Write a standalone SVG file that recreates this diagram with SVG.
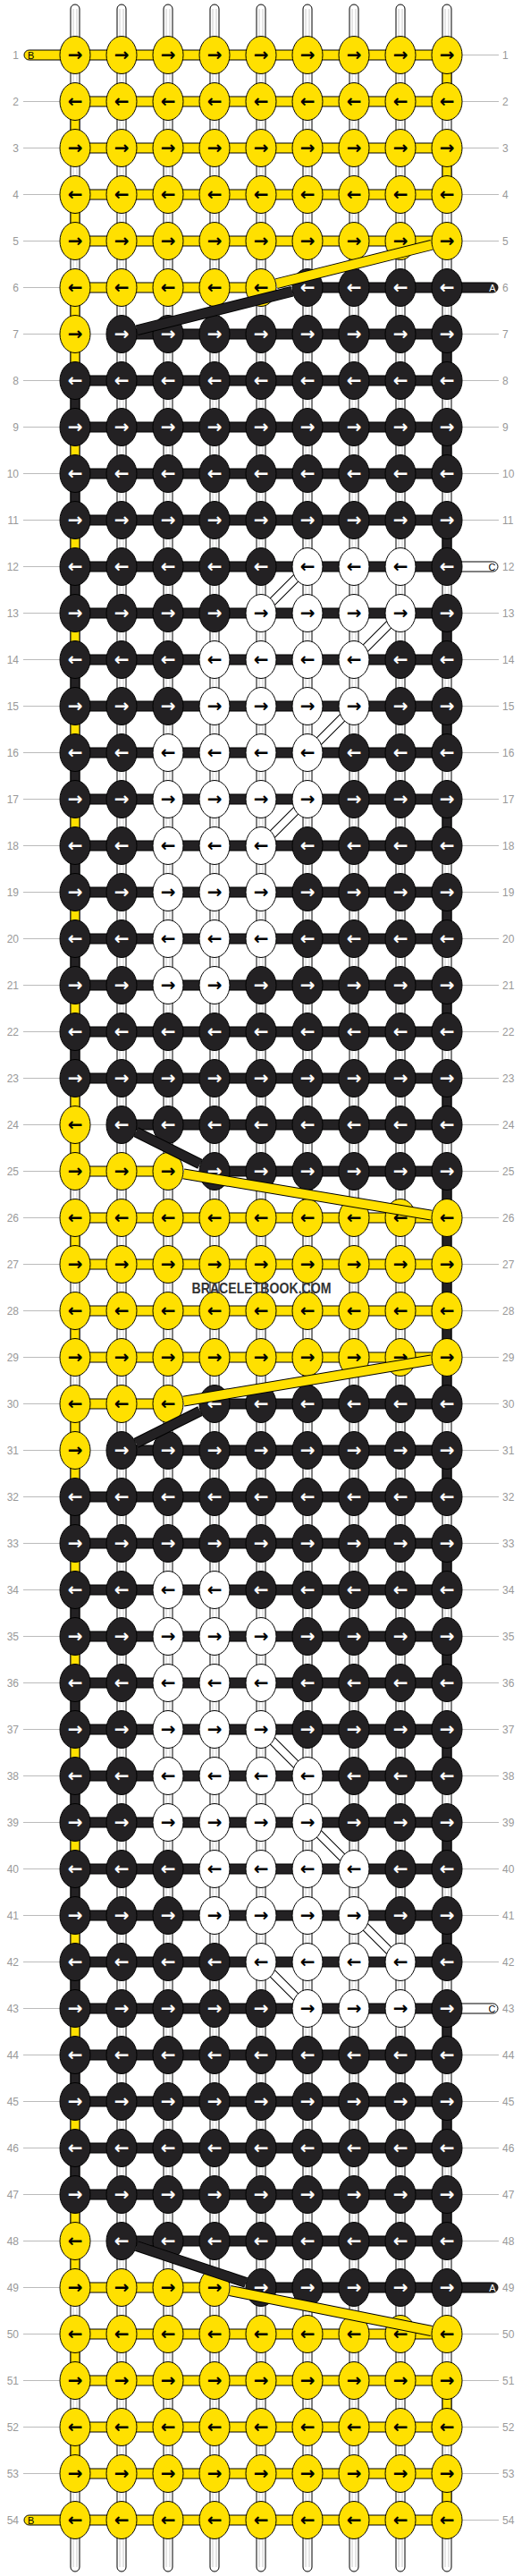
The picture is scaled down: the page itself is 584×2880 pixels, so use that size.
<svg xmlns="http://www.w3.org/2000/svg" width="584" height="2880" viewBox="0 0 584 2880">
<style>
.lbl text{font-family:"Liberation Sans",Arial,sans-serif;font-size:12px;fill:#999}
.gl{stroke:#bbb;stroke-width:1;fill:none}
.tb{fill:#fff;stroke:#000;stroke-width:1}
.ti{stroke:#ccc;stroke-width:1;fill:none}
.Y{fill:#ffe000;stroke:#000;stroke-width:1}
.K{fill:#232123;stroke:#000;stroke-width:1}
.W{fill:#fff;stroke:#000;stroke-width:1}
.ar{font-family:"DejaVu Sans",sans-serif;font-weight:bold;font-size:20px;text-anchor:middle;fill:#000}
.aw{fill:#fff}
.tt{font-family:"Liberation Sans",Arial,sans-serif;font-size:11px}
.bo{stroke:#000;stroke-width:12;fill:none}
.by{stroke:#ffe000;stroke-width:10;fill:none}
.bk{stroke:#232123;stroke-width:10;fill:none}
.ho{stroke:#000;stroke-width:10;fill:none}
.hw{stroke:#fff;stroke-width:8;fill:none}
.wm{font-family:"Liberation Sans",Arial,sans-serif;font-weight:bold;font-size:17px;fill:#333;text-anchor:middle}
</style>
<defs>
<g id="yr"><ellipse class="Y" rx="17" ry="21"/><text class="ar" y="6.5">→</text></g>
<g id="yl"><ellipse class="Y" rx="17" ry="21"/><text class="ar" y="6.5">←</text></g>
<g id="kr"><ellipse class="K" rx="17" ry="21"/><text class="ar aw" y="6.5">→</text></g>
<g id="kl"><ellipse class="K" rx="17" ry="21"/><text class="ar aw" y="6.5">←</text></g>
<g id="wr"><ellipse class="W" rx="17" ry="21"/><text class="ar" y="6.5">→</text></g>
<g id="wl"><ellipse class="W" rx="17" ry="21"/><text class="ar" y="6.5">←</text></g>
</defs>
<rect width="584" height="2880" fill="#fff"/>
<g id="labels" class="lbl">
<path class="gl" d="M84 61.5H558M26 113.5H558M26 165.5H558M26 217.5H558M26 269.5H558M26 321.5H500M26 373.5H558M26 425.5H558M26 477.5H558M26 529.5H558M26 581.5H558M26 633.5H500M26 685.5H558M26 737.5H558M26 789.5H558M26 841.5H558M26 893.5H558M26 945.5H558M26 997.5H558M26 1049.5H558M26 1101.5H558M26 1153.5H558M26 1205.5H558M26 1257.5H558M26 1309.5H558M26 1361.5H558M26 1413.5H558M26 1465.5H558M26 1517.5H558M26 1569.5H558M26 1621.5H558M26 1673.5H558M26 1725.5H558M26 1777.5H558M26 1829.5H558M26 1881.5H558M26 1933.5H558M26 1985.5H558M26 2037.5H558M26 2089.5H558M26 2141.5H558M26 2193.5H558M26 2245.5H500M26 2297.5H558M26 2349.5H558M26 2401.5H558M26 2453.5H558M26 2505.5H558M26 2557.5H500M26 2609.5H558M26 2661.5H558M26 2713.5H558M26 2765.5H558M84 2817.5H558"/>
<g text-anchor="end">
<text x="21" y="66">1</text><text x="21" y="118">2</text><text x="21" y="170">3</text><text x="21" y="222">4</text><text x="21" y="274">5</text><text x="21" y="326">6</text><text x="21" y="378">7</text><text x="21" y="430">8</text><text x="21" y="482">9</text><text x="21" y="534">10</text><text x="21" y="586">11</text><text x="21" y="638">12</text><text x="21" y="690">13</text><text x="21" y="742">14</text><text x="21" y="794">15</text><text x="21" y="846">16</text><text x="21" y="898">17</text><text x="21" y="950">18</text><text x="21" y="1002">19</text><text x="21" y="1054">20</text><text x="21" y="1106">21</text><text x="21" y="1158">22</text><text x="21" y="1210">23</text><text x="21" y="1262">24</text><text x="21" y="1314">25</text><text x="21" y="1366">26</text><text x="21" y="1418">27</text><text x="21" y="1470">28</text><text x="21" y="1522">29</text><text x="21" y="1574">30</text><text x="21" y="1626">31</text><text x="21" y="1678">32</text><text x="21" y="1730">33</text><text x="21" y="1782">34</text><text x="21" y="1834">35</text><text x="21" y="1886">36</text><text x="21" y="1938">37</text><text x="21" y="1990">38</text><text x="21" y="2042">39</text><text x="21" y="2094">40</text><text x="21" y="2146">41</text><text x="21" y="2198">42</text><text x="21" y="2250">43</text><text x="21" y="2302">44</text><text x="21" y="2354">45</text><text x="21" y="2406">46</text><text x="21" y="2458">47</text><text x="21" y="2510">48</text><text x="21" y="2562">49</text><text x="21" y="2614">50</text><text x="21" y="2666">51</text><text x="21" y="2718">52</text><text x="21" y="2770">53</text><text x="21" y="2822">54</text>
</g>
<g>
<text x="562" y="66">1</text><text x="562" y="118">2</text><text x="562" y="170">3</text><text x="562" y="222">4</text><text x="562" y="274">5</text><text x="562" y="326">6</text><text x="562" y="378">7</text><text x="562" y="430">8</text><text x="562" y="482">9</text><text x="562" y="534">10</text><text x="562" y="586">11</text><text x="562" y="638">12</text><text x="562" y="690">13</text><text x="562" y="742">14</text><text x="562" y="794">15</text><text x="562" y="846">16</text><text x="562" y="898">17</text><text x="562" y="950">18</text><text x="562" y="1002">19</text><text x="562" y="1054">20</text><text x="562" y="1106">21</text><text x="562" y="1158">22</text><text x="562" y="1210">23</text><text x="562" y="1262">24</text><text x="562" y="1314">25</text><text x="562" y="1366">26</text><text x="562" y="1418">27</text><text x="562" y="1470">28</text><text x="562" y="1522">29</text><text x="562" y="1574">30</text><text x="562" y="1626">31</text><text x="562" y="1678">32</text><text x="562" y="1730">33</text><text x="562" y="1782">34</text><text x="562" y="1834">35</text><text x="562" y="1886">36</text><text x="562" y="1938">37</text><text x="562" y="1990">38</text><text x="562" y="2042">39</text><text x="562" y="2094">40</text><text x="562" y="2146">41</text><text x="562" y="2198">42</text><text x="562" y="2250">43</text><text x="562" y="2302">44</text><text x="562" y="2354">45</text><text x="562" y="2406">46</text><text x="562" y="2458">47</text><text x="562" y="2510">48</text><text x="562" y="2562">49</text><text x="562" y="2614">50</text><text x="562" y="2666">51</text><text x="562" y="2718">52</text><text x="562" y="2770">53</text><text x="562" y="2822">54</text>
</g>
</g>
<g id="connectors">
<g id="tubes">
<rect class="tb" x="79" y="5" width="10" height="2870" rx="5"/><rect class="tb" x="131" y="5" width="10" height="2870" rx="5"/><rect class="tb" x="183" y="5" width="10" height="2870" rx="5"/><rect class="tb" x="235" y="5" width="10" height="2870" rx="5"/><rect class="tb" x="287" y="5" width="10" height="2870" rx="5"/><rect class="tb" x="339" y="5" width="10" height="2870" rx="5"/><rect class="tb" x="391" y="5" width="10" height="2870" rx="5"/><rect class="tb" x="443" y="5" width="10" height="2870" rx="5"/><rect class="tb" x="495" y="5" width="10" height="2870" rx="5"/>
<path class="ti" d="M82 10V2870M86 10V2870M134 10V2870M138 10V2870M186 10V2870M190 10V2870M238 10V2870M242 10V2870M290 10V2870M294 10V2870M342 10V2870M346 10V2870M394 10V2870M398 10V2870M446 10V2870M450 10V2870M498 10V2870M502 10V2870"/>
</g>
<g id="bars">
<rect class="Y" x="84" y="56" width="416" height="11"/><rect class="Y" x="84" y="108" width="416" height="11"/><rect class="Y" x="84" y="160" width="416" height="11"/><rect class="Y" x="84" y="212" width="416" height="11"/><rect class="Y" x="84" y="264" width="416" height="11"/>
<rect class="Y" x="84" y="316" width="208" height="11"/><rect class="K" x="344" y="316" width="156" height="11"/>
<rect class="K" x="136" y="368" width="364" height="11"/>
<rect class="K" x="84" y="420" width="416" height="11"/><rect class="K" x="84" y="472" width="416" height="11"/><rect class="K" x="84" y="524" width="416" height="11"/><rect class="K" x="84" y="576" width="416" height="11"/><rect class="K" x="84" y="628" width="416" height="11"/><rect class="K" x="84" y="680" width="416" height="11"/><rect class="K" x="84" y="732" width="416" height="11"/><rect class="K" x="84" y="784" width="416" height="11"/><rect class="K" x="84" y="836" width="416" height="11"/><rect class="K" x="84" y="888" width="416" height="11"/><rect class="K" x="84" y="940" width="416" height="11"/><rect class="K" x="84" y="992" width="416" height="11"/><rect class="K" x="84" y="1044" width="416" height="11"/><rect class="K" x="84" y="1096" width="416" height="11"/><rect class="K" x="84" y="1148" width="416" height="11"/><rect class="K" x="84" y="1200" width="416" height="11"/>
<rect class="K" x="136" y="1252" width="364" height="11"/>
<rect class="Y" x="84" y="1304" width="104" height="11"/><rect class="K" x="240" y="1304" width="260" height="11"/>
<rect class="Y" x="84" y="1356" width="416" height="11"/><rect class="Y" x="84" y="1408" width="416" height="11"/><rect class="Y" x="84" y="1460" width="416" height="11"/><rect class="Y" x="84" y="1512" width="416" height="11"/>
<rect class="Y" x="84" y="1564" width="104" height="11"/><rect class="K" x="240" y="1564" width="260" height="11"/>
<rect class="K" x="136" y="1616" width="364" height="11"/>
<rect class="K" x="84" y="1668" width="416" height="11"/><rect class="K" x="84" y="1720" width="416" height="11"/><rect class="K" x="84" y="1772" width="416" height="11"/><rect class="K" x="84" y="1824" width="416" height="11"/><rect class="K" x="84" y="1876" width="416" height="11"/><rect class="K" x="84" y="1928" width="416" height="11"/><rect class="K" x="84" y="1980" width="416" height="11"/><rect class="K" x="84" y="2032" width="416" height="11"/><rect class="K" x="84" y="2084" width="416" height="11"/><rect class="K" x="84" y="2136" width="416" height="11"/><rect class="K" x="84" y="2188" width="416" height="11"/><rect class="K" x="84" y="2240" width="416" height="11"/><rect class="K" x="84" y="2292" width="416" height="11"/><rect class="K" x="84" y="2344" width="416" height="11"/><rect class="K" x="84" y="2396" width="416" height="11"/><rect class="K" x="84" y="2448" width="416" height="11"/>
<rect class="K" x="136" y="2500" width="364" height="11"/>
<rect class="Y" x="84" y="2552" width="156" height="11"/><rect class="K" x="292" y="2552" width="208" height="11"/>
<rect class="Y" x="84" y="2604" width="416" height="11"/><rect class="Y" x="84" y="2656" width="416" height="11"/><rect class="Y" x="84" y="2708" width="416" height="11"/><rect class="Y" x="84" y="2760" width="416" height="11"/><rect class="Y" x="84" y="2812" width="416" height="11"/>
</g>
<g id="edges">
<rect class="Y" x="79" y="130.5" width="10" height="18"/><rect class="Y" x="79" y="234.5" width="10" height="18"/><rect class="Y" x="79" y="338.5" width="10" height="18"/><rect class="Y" x="79" y="390.5" width="10" height="18"/>
<rect class="K" x="79" y="442.5" width="10" height="18"/><rect class="Y" x="79" y="494.5" width="10" height="18"/><rect class="K" x="79" y="546.5" width="10" height="18"/><rect class="Y" x="79" y="598.5" width="10" height="18"/><rect class="K" x="79" y="650.5" width="10" height="18"/><rect class="Y" x="79" y="702.5" width="10" height="18"/><rect class="K" x="79" y="754.5" width="10" height="18"/><rect class="Y" x="79" y="806.5" width="10" height="18"/><rect class="K" x="79" y="858.5" width="10" height="18"/><rect class="Y" x="79" y="910.5" width="10" height="18"/><rect class="K" x="79" y="962.5" width="10" height="18"/><rect class="Y" x="79" y="1014.5" width="10" height="18"/><rect class="K" x="79" y="1066.5" width="10" height="18"/><rect class="Y" x="79" y="1118.5" width="10" height="18"/><rect class="K" x="79" y="1170.5" width="10" height="18"/><rect class="Y" x="79" y="1222.5" width="10" height="18"/><rect class="Y" x="79" y="1274.5" width="10" height="18"/>
<rect class="Y" x="79" y="1378.5" width="10" height="18"/><rect class="Y" x="79" y="1482.5" width="10" height="18"/><rect class="Y" x="79" y="1586.5" width="10" height="18"/>
<rect class="Y" x="79" y="1638.5" width="10" height="18"/><rect class="K" x="79" y="1690.5" width="10" height="18"/><rect class="Y" x="79" y="1742.5" width="10" height="18"/><rect class="K" x="79" y="1794.5" width="10" height="18"/><rect class="Y" x="79" y="1846.5" width="10" height="18"/><rect class="K" x="79" y="1898.5" width="10" height="18"/><rect class="Y" x="79" y="1950.5" width="10" height="18"/><rect class="K" x="79" y="2002.5" width="10" height="18"/><rect class="Y" x="79" y="2054.5" width="10" height="18"/><rect class="K" x="79" y="2106.5" width="10" height="18"/><rect class="Y" x="79" y="2158.5" width="10" height="18"/><rect class="K" x="79" y="2210.5" width="10" height="18"/><rect class="Y" x="79" y="2262.5" width="10" height="18"/><rect class="K" x="79" y="2314.5" width="10" height="18"/><rect class="Y" x="79" y="2366.5" width="10" height="18"/><rect class="K" x="79" y="2418.5" width="10" height="18"/><rect class="Y" x="79" y="2470.5" width="10" height="18"/><rect class="Y" x="79" y="2522.5" width="10" height="18"/>
<rect class="Y" x="79" y="2626.5" width="10" height="18"/><rect class="Y" x="79" y="2730.5" width="10" height="18"/>
<rect class="Y" x="495" y="78.5" width="10" height="18"/><rect class="Y" x="495" y="182.5" width="10" height="18"/>
<rect class="K" x="495" y="390.5" width="10" height="18"/><rect class="K" x="495" y="494.5" width="10" height="18"/><rect class="K" x="495" y="598.5" width="10" height="18"/><rect class="K" x="495" y="702.5" width="10" height="18"/><rect class="K" x="495" y="806.5" width="10" height="18"/><rect class="K" x="495" y="910.5" width="10" height="18"/><rect class="K" x="495" y="1014.5" width="10" height="18"/><rect class="K" x="495" y="1118.5" width="10" height="18"/><rect class="K" x="495" y="1222.5" width="10" height="18"/>
<rect class="K" x="495" y="1326.5" width="10" height="18"/><rect class="K" x="495" y="1378.5" width="10" height="18"/><rect class="K" x="495" y="1430.5" width="10" height="18"/><rect class="K" x="495" y="1482.5" width="10" height="18"/><rect class="K" x="495" y="1534.5" width="10" height="18"/>
<rect class="K" x="495" y="1638.5" width="10" height="18"/><rect class="K" x="495" y="1742.5" width="10" height="18"/><rect class="K" x="495" y="1846.5" width="10" height="18"/><rect class="K" x="495" y="1950.5" width="10" height="18"/><rect class="K" x="495" y="2054.5" width="10" height="18"/><rect class="K" x="495" y="2158.5" width="10" height="18"/><rect class="K" x="495" y="2262.5" width="10" height="18"/><rect class="K" x="495" y="2366.5" width="10" height="18"/><rect class="K" x="495" y="2470.5" width="10" height="18"/>
<rect class="Y" x="495" y="2678.5" width="10" height="18"/><rect class="Y" x="495" y="2782.5" width="10" height="18"/>
</g>
<g id="tails">
<rect class="Y" x="27" y="56" width="50" height="11" rx="5.5"/><text class="tt" x="31" y="66">B</text>
<rect class="Y" x="27" y="2812" width="50" height="11" rx="5.5"/><text class="tt" x="31" y="2822">B</text>
<rect class="K" x="490" y="316" width="67" height="11" rx="5.5"/><text class="tt" x="554.5" y="326" text-anchor="end" fill="#fff">A</text>
<rect class="K" x="490" y="2552" width="67" height="11" rx="5.5"/><text class="tt" x="554.5" y="2562" text-anchor="end" fill="#fff">A</text>
<rect class="W" x="490" y="628" width="67" height="11" rx="5.5"/><text class="tt" x="554.5" y="638" text-anchor="end">C</text>
<rect class="W" x="490" y="2240" width="67" height="11" rx="5.5"/><text class="tt" x="554.5" y="2250" text-anchor="end">C</text>
</g>
<g id="hatches">
<path class="ho" d="M344 633.5L292 685.5M448 685.5L396 737.5M396 789.5L344 841.5M344 893.5L292 945.5M344 2245.5L292 2193.5M448 2193.5L396 2141.5M396 2089.5L344 2037.5M344 1985.5L292 1933.5"/>
<path class="hw" d="M344 633.5L292 685.5M448 685.5L396 737.5M396 789.5L344 841.5M344 893.5L292 945.5M344 2245.5L292 2193.5M448 2193.5L396 2141.5M396 2089.5L344 2037.5M344 1985.5L292 1933.5"/>
</g>
</g>
<g id="nodes">
<g id="row1" transform="translate(0,61.5)"><use id="n1-1" href="#yr" x="84"/><use id="n1-2" href="#yr" x="136"/><use id="n1-3" href="#yr" x="188"/><use id="n1-4" href="#yr" x="240"/><use id="n1-5" href="#yr" x="292"/><use id="n1-6" href="#yr" x="344"/><use id="n1-7" href="#yr" x="396"/><use id="n1-8" href="#yr" x="448"/><use id="n1-9" href="#yr" x="500"/></g>
<g id="row2" transform="translate(0,113.5)"><use id="n2-1" href="#yl" x="84"/><use id="n2-2" href="#yl" x="136"/><use id="n2-3" href="#yl" x="188"/><use id="n2-4" href="#yl" x="240"/><use id="n2-5" href="#yl" x="292"/><use id="n2-6" href="#yl" x="344"/><use id="n2-7" href="#yl" x="396"/><use id="n2-8" href="#yl" x="448"/><use id="n2-9" href="#yl" x="500"/></g>
<g id="row3" transform="translate(0,165.5)"><use id="n3-1" href="#yr" x="84"/><use id="n3-2" href="#yr" x="136"/><use id="n3-3" href="#yr" x="188"/><use id="n3-4" href="#yr" x="240"/><use id="n3-5" href="#yr" x="292"/><use id="n3-6" href="#yr" x="344"/><use id="n3-7" href="#yr" x="396"/><use id="n3-8" href="#yr" x="448"/><use id="n3-9" href="#yr" x="500"/></g>
<g id="row4" transform="translate(0,217.5)"><use id="n4-1" href="#yl" x="84"/><use id="n4-2" href="#yl" x="136"/><use id="n4-3" href="#yl" x="188"/><use id="n4-4" href="#yl" x="240"/><use id="n4-5" href="#yl" x="292"/><use id="n4-6" href="#yl" x="344"/><use id="n4-7" href="#yl" x="396"/><use id="n4-8" href="#yl" x="448"/><use id="n4-9" href="#yl" x="500"/></g>
<g id="row5" transform="translate(0,269.5)"><use id="n5-1" href="#yr" x="84"/><use id="n5-2" href="#yr" x="136"/><use id="n5-3" href="#yr" x="188"/><use id="n5-4" href="#yr" x="240"/><use id="n5-5" href="#yr" x="292"/><use id="n5-6" href="#yr" x="344"/><use id="n5-7" href="#yr" x="396"/><use id="n5-8" href="#yr" x="448"/><use id="n5-9" href="#yr" x="500"/></g>
<g id="row6" transform="translate(0,321.5)"><use id="n6-1" href="#yl" x="84"/><use id="n6-2" href="#yl" x="136"/><use id="n6-3" href="#yl" x="188"/><use id="n6-4" href="#yl" x="240"/><use id="n6-5" href="#yl" x="292"/><use id="n6-6" href="#kl" x="344"/><use id="n6-7" href="#kl" x="396"/><use id="n6-8" href="#kl" x="448"/><use id="n6-9" href="#kl" x="500"/></g>
<g id="row7" transform="translate(0,373.5)"><use id="n7-1" href="#yr" x="84"/><use id="n7-2" href="#kr" x="136"/><use id="n7-3" href="#kr" x="188"/><use id="n7-4" href="#kr" x="240"/><use id="n7-5" href="#kr" x="292"/><use id="n7-6" href="#kr" x="344"/><use id="n7-7" href="#kr" x="396"/><use id="n7-8" href="#kr" x="448"/><use id="n7-9" href="#kr" x="500"/></g>
<g id="row8" transform="translate(0,425.5)"><use id="n8-1" href="#kl" x="84"/><use id="n8-2" href="#kl" x="136"/><use id="n8-3" href="#kl" x="188"/><use id="n8-4" href="#kl" x="240"/><use id="n8-5" href="#kl" x="292"/><use id="n8-6" href="#kl" x="344"/><use id="n8-7" href="#kl" x="396"/><use id="n8-8" href="#kl" x="448"/><use id="n8-9" href="#kl" x="500"/></g>
<g id="row9" transform="translate(0,477.5)"><use id="n9-1" href="#kr" x="84"/><use id="n9-2" href="#kr" x="136"/><use id="n9-3" href="#kr" x="188"/><use id="n9-4" href="#kr" x="240"/><use id="n9-5" href="#kr" x="292"/><use id="n9-6" href="#kr" x="344"/><use id="n9-7" href="#kr" x="396"/><use id="n9-8" href="#kr" x="448"/><use id="n9-9" href="#kr" x="500"/></g>
<g id="row10" transform="translate(0,529.5)"><use id="n10-1" href="#kl" x="84"/><use id="n10-2" href="#kl" x="136"/><use id="n10-3" href="#kl" x="188"/><use id="n10-4" href="#kl" x="240"/><use id="n10-5" href="#kl" x="292"/><use id="n10-6" href="#kl" x="344"/><use id="n10-7" href="#kl" x="396"/><use id="n10-8" href="#kl" x="448"/><use id="n10-9" href="#kl" x="500"/></g>
<g id="row11" transform="translate(0,581.5)"><use id="n11-1" href="#kr" x="84"/><use id="n11-2" href="#kr" x="136"/><use id="n11-3" href="#kr" x="188"/><use id="n11-4" href="#kr" x="240"/><use id="n11-5" href="#kr" x="292"/><use id="n11-6" href="#kr" x="344"/><use id="n11-7" href="#kr" x="396"/><use id="n11-8" href="#kr" x="448"/><use id="n11-9" href="#kr" x="500"/></g>
<g id="row12" transform="translate(0,633.5)"><use id="n12-1" href="#kl" x="84"/><use id="n12-2" href="#kl" x="136"/><use id="n12-3" href="#kl" x="188"/><use id="n12-4" href="#kl" x="240"/><use id="n12-5" href="#kl" x="292"/><use id="n12-6" href="#wl" x="344"/><use id="n12-7" href="#wl" x="396"/><use id="n12-8" href="#wl" x="448"/><use id="n12-9" href="#kl" x="500"/></g>
<g id="row13" transform="translate(0,685.5)"><use id="n13-1" href="#kr" x="84"/><use id="n13-2" href="#kr" x="136"/><use id="n13-3" href="#kr" x="188"/><use id="n13-4" href="#kr" x="240"/><use id="n13-5" href="#wr" x="292"/><use id="n13-6" href="#wr" x="344"/><use id="n13-7" href="#wr" x="396"/><use id="n13-8" href="#wr" x="448"/><use id="n13-9" href="#kr" x="500"/></g>
<g id="row14" transform="translate(0,737.5)"><use id="n14-1" href="#kl" x="84"/><use id="n14-2" href="#kl" x="136"/><use id="n14-3" href="#kl" x="188"/><use id="n14-4" href="#wl" x="240"/><use id="n14-5" href="#wl" x="292"/><use id="n14-6" href="#wl" x="344"/><use id="n14-7" href="#wl" x="396"/><use id="n14-8" href="#kl" x="448"/><use id="n14-9" href="#kl" x="500"/></g>
<g id="row15" transform="translate(0,789.5)"><use id="n15-1" href="#kr" x="84"/><use id="n15-2" href="#kr" x="136"/><use id="n15-3" href="#kr" x="188"/><use id="n15-4" href="#wr" x="240"/><use id="n15-5" href="#wr" x="292"/><use id="n15-6" href="#wr" x="344"/><use id="n15-7" href="#wr" x="396"/><use id="n15-8" href="#kr" x="448"/><use id="n15-9" href="#kr" x="500"/></g>
<g id="row16" transform="translate(0,841.5)"><use id="n16-1" href="#kl" x="84"/><use id="n16-2" href="#kl" x="136"/><use id="n16-3" href="#wl" x="188"/><use id="n16-4" href="#wl" x="240"/><use id="n16-5" href="#wl" x="292"/><use id="n16-6" href="#wl" x="344"/><use id="n16-7" href="#kl" x="396"/><use id="n16-8" href="#kl" x="448"/><use id="n16-9" href="#kl" x="500"/></g>
<g id="row17" transform="translate(0,893.5)"><use id="n17-1" href="#kr" x="84"/><use id="n17-2" href="#kr" x="136"/><use id="n17-3" href="#wr" x="188"/><use id="n17-4" href="#wr" x="240"/><use id="n17-5" href="#wr" x="292"/><use id="n17-6" href="#wr" x="344"/><use id="n17-7" href="#kr" x="396"/><use id="n17-8" href="#kr" x="448"/><use id="n17-9" href="#kr" x="500"/></g>
<g id="row18" transform="translate(0,945.5)"><use id="n18-1" href="#kl" x="84"/><use id="n18-2" href="#kl" x="136"/><use id="n18-3" href="#wl" x="188"/><use id="n18-4" href="#wl" x="240"/><use id="n18-5" href="#wl" x="292"/><use id="n18-6" href="#kl" x="344"/><use id="n18-7" href="#kl" x="396"/><use id="n18-8" href="#kl" x="448"/><use id="n18-9" href="#kl" x="500"/></g>
<g id="row19" transform="translate(0,997.5)"><use id="n19-1" href="#kr" x="84"/><use id="n19-2" href="#kr" x="136"/><use id="n19-3" href="#wr" x="188"/><use id="n19-4" href="#wr" x="240"/><use id="n19-5" href="#wr" x="292"/><use id="n19-6" href="#kr" x="344"/><use id="n19-7" href="#kr" x="396"/><use id="n19-8" href="#kr" x="448"/><use id="n19-9" href="#kr" x="500"/></g>
<g id="row20" transform="translate(0,1049.5)"><use id="n20-1" href="#kl" x="84"/><use id="n20-2" href="#kl" x="136"/><use id="n20-3" href="#wl" x="188"/><use id="n20-4" href="#wl" x="240"/><use id="n20-5" href="#wl" x="292"/><use id="n20-6" href="#kl" x="344"/><use id="n20-7" href="#kl" x="396"/><use id="n20-8" href="#kl" x="448"/><use id="n20-9" href="#kl" x="500"/></g>
<g id="row21" transform="translate(0,1101.5)"><use id="n21-1" href="#kr" x="84"/><use id="n21-2" href="#kr" x="136"/><use id="n21-3" href="#wr" x="188"/><use id="n21-4" href="#wr" x="240"/><use id="n21-5" href="#kr" x="292"/><use id="n21-6" href="#kr" x="344"/><use id="n21-7" href="#kr" x="396"/><use id="n21-8" href="#kr" x="448"/><use id="n21-9" href="#kr" x="500"/></g>
<g id="row22" transform="translate(0,1153.5)"><use id="n22-1" href="#kl" x="84"/><use id="n22-2" href="#kl" x="136"/><use id="n22-3" href="#kl" x="188"/><use id="n22-4" href="#kl" x="240"/><use id="n22-5" href="#kl" x="292"/><use id="n22-6" href="#kl" x="344"/><use id="n22-7" href="#kl" x="396"/><use id="n22-8" href="#kl" x="448"/><use id="n22-9" href="#kl" x="500"/></g>
<g id="row23" transform="translate(0,1205.5)"><use id="n23-1" href="#kr" x="84"/><use id="n23-2" href="#kr" x="136"/><use id="n23-3" href="#kr" x="188"/><use id="n23-4" href="#kr" x="240"/><use id="n23-5" href="#kr" x="292"/><use id="n23-6" href="#kr" x="344"/><use id="n23-7" href="#kr" x="396"/><use id="n23-8" href="#kr" x="448"/><use id="n23-9" href="#kr" x="500"/></g>
<g id="row24" transform="translate(0,1257.5)"><use id="n24-1" href="#yl" x="84"/><use id="n24-2" href="#kl" x="136"/><use id="n24-3" href="#kl" x="188"/><use id="n24-4" href="#kl" x="240"/><use id="n24-5" href="#kl" x="292"/><use id="n24-6" href="#kl" x="344"/><use id="n24-7" href="#kl" x="396"/><use id="n24-8" href="#kl" x="448"/><use id="n24-9" href="#kl" x="500"/></g>
<g id="row25" transform="translate(0,1309.5)"><use id="n25-1" href="#yr" x="84"/><use id="n25-2" href="#yr" x="136"/><use id="n25-3" href="#yr" x="188"/><use id="n25-4" href="#kr" x="240"/><use id="n25-5" href="#kr" x="292"/><use id="n25-6" href="#kr" x="344"/><use id="n25-7" href="#kr" x="396"/><use id="n25-8" href="#kr" x="448"/><use id="n25-9" href="#kr" x="500"/></g>
<g id="row26" transform="translate(0,1361.5)"><use id="n26-1" href="#yl" x="84"/><use id="n26-2" href="#yl" x="136"/><use id="n26-3" href="#yl" x="188"/><use id="n26-4" href="#yl" x="240"/><use id="n26-5" href="#yl" x="292"/><use id="n26-6" href="#yl" x="344"/><use id="n26-7" href="#yl" x="396"/><use id="n26-8" href="#yl" x="448"/><use id="n26-9" href="#yl" x="500"/></g>
<g id="row27" transform="translate(0,1413.5)"><use id="n27-1" href="#yr" x="84"/><use id="n27-2" href="#yr" x="136"/><use id="n27-3" href="#yr" x="188"/><use id="n27-4" href="#yr" x="240"/><use id="n27-5" href="#yr" x="292"/><use id="n27-6" href="#yr" x="344"/><use id="n27-7" href="#yr" x="396"/><use id="n27-8" href="#yr" x="448"/><use id="n27-9" href="#yr" x="500"/></g>
<g id="row28" transform="translate(0,1465.5)"><use id="n28-1" href="#yl" x="84"/><use id="n28-2" href="#yl" x="136"/><use id="n28-3" href="#yl" x="188"/><use id="n28-4" href="#yl" x="240"/><use id="n28-5" href="#yl" x="292"/><use id="n28-6" href="#yl" x="344"/><use id="n28-7" href="#yl" x="396"/><use id="n28-8" href="#yl" x="448"/><use id="n28-9" href="#yl" x="500"/></g>
<g id="row29" transform="translate(0,1517.5)"><use id="n29-1" href="#yr" x="84"/><use id="n29-2" href="#yr" x="136"/><use id="n29-3" href="#yr" x="188"/><use id="n29-4" href="#yr" x="240"/><use id="n29-5" href="#yr" x="292"/><use id="n29-6" href="#yr" x="344"/><use id="n29-7" href="#yr" x="396"/><use id="n29-8" href="#yr" x="448"/><use id="n29-9" href="#yr" x="500"/></g>
<g id="row30" transform="translate(0,1569.5)"><use id="n30-1" href="#yl" x="84"/><use id="n30-2" href="#yl" x="136"/><use id="n30-3" href="#yl" x="188"/><use id="n30-4" href="#kl" x="240"/><use id="n30-5" href="#kl" x="292"/><use id="n30-6" href="#kl" x="344"/><use id="n30-7" href="#kl" x="396"/><use id="n30-8" href="#kl" x="448"/><use id="n30-9" href="#kl" x="500"/></g>
<g id="row31" transform="translate(0,1621.5)"><use id="n31-1" href="#yr" x="84"/><use id="n31-2" href="#kr" x="136"/><use id="n31-3" href="#kr" x="188"/><use id="n31-4" href="#kr" x="240"/><use id="n31-5" href="#kr" x="292"/><use id="n31-6" href="#kr" x="344"/><use id="n31-7" href="#kr" x="396"/><use id="n31-8" href="#kr" x="448"/><use id="n31-9" href="#kr" x="500"/></g>
<g id="row32" transform="translate(0,1673.5)"><use id="n32-1" href="#kl" x="84"/><use id="n32-2" href="#kl" x="136"/><use id="n32-3" href="#kl" x="188"/><use id="n32-4" href="#kl" x="240"/><use id="n32-5" href="#kl" x="292"/><use id="n32-6" href="#kl" x="344"/><use id="n32-7" href="#kl" x="396"/><use id="n32-8" href="#kl" x="448"/><use id="n32-9" href="#kl" x="500"/></g>
<g id="row33" transform="translate(0,1725.5)"><use id="n33-1" href="#kr" x="84"/><use id="n33-2" href="#kr" x="136"/><use id="n33-3" href="#kr" x="188"/><use id="n33-4" href="#kr" x="240"/><use id="n33-5" href="#kr" x="292"/><use id="n33-6" href="#kr" x="344"/><use id="n33-7" href="#kr" x="396"/><use id="n33-8" href="#kr" x="448"/><use id="n33-9" href="#kr" x="500"/></g>
<g id="row34" transform="translate(0,1777.5)"><use id="n34-1" href="#kl" x="84"/><use id="n34-2" href="#kl" x="136"/><use id="n34-3" href="#wl" x="188"/><use id="n34-4" href="#wl" x="240"/><use id="n34-5" href="#kl" x="292"/><use id="n34-6" href="#kl" x="344"/><use id="n34-7" href="#kl" x="396"/><use id="n34-8" href="#kl" x="448"/><use id="n34-9" href="#kl" x="500"/></g>
<g id="row35" transform="translate(0,1829.5)"><use id="n35-1" href="#kr" x="84"/><use id="n35-2" href="#kr" x="136"/><use id="n35-3" href="#wr" x="188"/><use id="n35-4" href="#wr" x="240"/><use id="n35-5" href="#wr" x="292"/><use id="n35-6" href="#kr" x="344"/><use id="n35-7" href="#kr" x="396"/><use id="n35-8" href="#kr" x="448"/><use id="n35-9" href="#kr" x="500"/></g>
<g id="row36" transform="translate(0,1881.5)"><use id="n36-1" href="#kl" x="84"/><use id="n36-2" href="#kl" x="136"/><use id="n36-3" href="#wl" x="188"/><use id="n36-4" href="#wl" x="240"/><use id="n36-5" href="#wl" x="292"/><use id="n36-6" href="#kl" x="344"/><use id="n36-7" href="#kl" x="396"/><use id="n36-8" href="#kl" x="448"/><use id="n36-9" href="#kl" x="500"/></g>
<g id="row37" transform="translate(0,1933.5)"><use id="n37-1" href="#kr" x="84"/><use id="n37-2" href="#kr" x="136"/><use id="n37-3" href="#wr" x="188"/><use id="n37-4" href="#wr" x="240"/><use id="n37-5" href="#wr" x="292"/><use id="n37-6" href="#kr" x="344"/><use id="n37-7" href="#kr" x="396"/><use id="n37-8" href="#kr" x="448"/><use id="n37-9" href="#kr" x="500"/></g>
<g id="row38" transform="translate(0,1985.5)"><use id="n38-1" href="#kl" x="84"/><use id="n38-2" href="#kl" x="136"/><use id="n38-3" href="#wl" x="188"/><use id="n38-4" href="#wl" x="240"/><use id="n38-5" href="#wl" x="292"/><use id="n38-6" href="#wl" x="344"/><use id="n38-7" href="#kl" x="396"/><use id="n38-8" href="#kl" x="448"/><use id="n38-9" href="#kl" x="500"/></g>
<g id="row39" transform="translate(0,2037.5)"><use id="n39-1" href="#kr" x="84"/><use id="n39-2" href="#kr" x="136"/><use id="n39-3" href="#wr" x="188"/><use id="n39-4" href="#wr" x="240"/><use id="n39-5" href="#wr" x="292"/><use id="n39-6" href="#wr" x="344"/><use id="n39-7" href="#kr" x="396"/><use id="n39-8" href="#kr" x="448"/><use id="n39-9" href="#kr" x="500"/></g>
<g id="row40" transform="translate(0,2089.5)"><use id="n40-1" href="#kl" x="84"/><use id="n40-2" href="#kl" x="136"/><use id="n40-3" href="#kl" x="188"/><use id="n40-4" href="#wl" x="240"/><use id="n40-5" href="#wl" x="292"/><use id="n40-6" href="#wl" x="344"/><use id="n40-7" href="#wl" x="396"/><use id="n40-8" href="#kl" x="448"/><use id="n40-9" href="#kl" x="500"/></g>
<g id="row41" transform="translate(0,2141.5)"><use id="n41-1" href="#kr" x="84"/><use id="n41-2" href="#kr" x="136"/><use id="n41-3" href="#kr" x="188"/><use id="n41-4" href="#wr" x="240"/><use id="n41-5" href="#wr" x="292"/><use id="n41-6" href="#wr" x="344"/><use id="n41-7" href="#wr" x="396"/><use id="n41-8" href="#kr" x="448"/><use id="n41-9" href="#kr" x="500"/></g>
<g id="row42" transform="translate(0,2193.5)"><use id="n42-1" href="#kl" x="84"/><use id="n42-2" href="#kl" x="136"/><use id="n42-3" href="#kl" x="188"/><use id="n42-4" href="#kl" x="240"/><use id="n42-5" href="#wl" x="292"/><use id="n42-6" href="#wl" x="344"/><use id="n42-7" href="#wl" x="396"/><use id="n42-8" href="#wl" x="448"/><use id="n42-9" href="#kl" x="500"/></g>
<g id="row43" transform="translate(0,2245.5)"><use id="n43-1" href="#kr" x="84"/><use id="n43-2" href="#kr" x="136"/><use id="n43-3" href="#kr" x="188"/><use id="n43-4" href="#kr" x="240"/><use id="n43-5" href="#kr" x="292"/><use id="n43-6" href="#wr" x="344"/><use id="n43-7" href="#wr" x="396"/><use id="n43-8" href="#wr" x="448"/><use id="n43-9" href="#kr" x="500"/></g>
<g id="row44" transform="translate(0,2297.5)"><use id="n44-1" href="#kl" x="84"/><use id="n44-2" href="#kl" x="136"/><use id="n44-3" href="#kl" x="188"/><use id="n44-4" href="#kl" x="240"/><use id="n44-5" href="#kl" x="292"/><use id="n44-6" href="#kl" x="344"/><use id="n44-7" href="#kl" x="396"/><use id="n44-8" href="#kl" x="448"/><use id="n44-9" href="#kl" x="500"/></g>
<g id="row45" transform="translate(0,2349.5)"><use id="n45-1" href="#kr" x="84"/><use id="n45-2" href="#kr" x="136"/><use id="n45-3" href="#kr" x="188"/><use id="n45-4" href="#kr" x="240"/><use id="n45-5" href="#kr" x="292"/><use id="n45-6" href="#kr" x="344"/><use id="n45-7" href="#kr" x="396"/><use id="n45-8" href="#kr" x="448"/><use id="n45-9" href="#kr" x="500"/></g>
<g id="row46" transform="translate(0,2401.5)"><use id="n46-1" href="#kl" x="84"/><use id="n46-2" href="#kl" x="136"/><use id="n46-3" href="#kl" x="188"/><use id="n46-4" href="#kl" x="240"/><use id="n46-5" href="#kl" x="292"/><use id="n46-6" href="#kl" x="344"/><use id="n46-7" href="#kl" x="396"/><use id="n46-8" href="#kl" x="448"/><use id="n46-9" href="#kl" x="500"/></g>
<g id="row47" transform="translate(0,2453.5)"><use id="n47-1" href="#kr" x="84"/><use id="n47-2" href="#kr" x="136"/><use id="n47-3" href="#kr" x="188"/><use id="n47-4" href="#kr" x="240"/><use id="n47-5" href="#kr" x="292"/><use id="n47-6" href="#kr" x="344"/><use id="n47-7" href="#kr" x="396"/><use id="n47-8" href="#kr" x="448"/><use id="n47-9" href="#kr" x="500"/></g>
<g id="row48" transform="translate(0,2505.5)"><use id="n48-1" href="#yl" x="84"/><use id="n48-2" href="#kl" x="136"/><use id="n48-3" href="#kl" x="188"/><use id="n48-4" href="#kl" x="240"/><use id="n48-5" href="#kl" x="292"/><use id="n48-6" href="#kl" x="344"/><use id="n48-7" href="#kl" x="396"/><use id="n48-8" href="#kl" x="448"/><use id="n48-9" href="#kl" x="500"/></g>
<g id="row49" transform="translate(0,2557.5)"><use id="n49-1" href="#yr" x="84"/><use id="n49-2" href="#yr" x="136"/><use id="n49-3" href="#yr" x="188"/><use id="n49-4" href="#yr" x="240"/><use id="n49-5" href="#kr" x="292"/><use id="n49-6" href="#kr" x="344"/><use id="n49-7" href="#kr" x="396"/><use id="n49-8" href="#kr" x="448"/><use id="n49-9" href="#kr" x="500"/></g>
<g id="row50" transform="translate(0,2609.5)"><use id="n50-1" href="#yl" x="84"/><use id="n50-2" href="#yl" x="136"/><use id="n50-3" href="#yl" x="188"/><use id="n50-4" href="#yl" x="240"/><use id="n50-5" href="#yl" x="292"/><use id="n50-6" href="#yl" x="344"/><use id="n50-7" href="#yl" x="396"/><use id="n50-8" href="#yl" x="448"/><use id="n50-9" href="#yl" x="500"/></g>
<g id="row51" transform="translate(0,2661.5)"><use id="n51-1" href="#yr" x="84"/><use id="n51-2" href="#yr" x="136"/><use id="n51-3" href="#yr" x="188"/><use id="n51-4" href="#yr" x="240"/><use id="n51-5" href="#yr" x="292"/><use id="n51-6" href="#yr" x="344"/><use id="n51-7" href="#yr" x="396"/><use id="n51-8" href="#yr" x="448"/><use id="n51-9" href="#yr" x="500"/></g>
<g id="row52" transform="translate(0,2713.5)"><use id="n52-1" href="#yl" x="84"/><use id="n52-2" href="#yl" x="136"/><use id="n52-3" href="#yl" x="188"/><use id="n52-4" href="#yl" x="240"/><use id="n52-5" href="#yl" x="292"/><use id="n52-6" href="#yl" x="344"/><use id="n52-7" href="#yl" x="396"/><use id="n52-8" href="#yl" x="448"/><use id="n52-9" href="#yl" x="500"/></g>
<g id="row53" transform="translate(0,2765.5)"><use id="n53-1" href="#yr" x="84"/><use id="n53-2" href="#yr" x="136"/><use id="n53-3" href="#yr" x="188"/><use id="n53-4" href="#yr" x="240"/><use id="n53-5" href="#yr" x="292"/><use id="n53-6" href="#yr" x="344"/><use id="n53-7" href="#yr" x="396"/><use id="n53-8" href="#yr" x="448"/><use id="n53-9" href="#yr" x="500"/></g>
<g id="row54" transform="translate(0,2817.5)"><use id="n54-1" href="#yl" x="84"/><use id="n54-2" href="#yl" x="136"/><use id="n54-3" href="#yl" x="188"/><use id="n54-4" href="#yl" x="240"/><use id="n54-5" href="#yl" x="292"/><use id="n54-6" href="#yl" x="344"/><use id="n54-7" href="#yl" x="396"/><use id="n54-8" href="#yl" x="448"/><use id="n54-9" href="#yl" x="500"/></g>
</g>
<g id="crossings">
<path class="bo" d="M482.9 273.8L309.2 317.2M326.9 325.8L153.2 369.2M152.2 1265.6L223.8 1301.4M205.3 1312.4L482.7 1358.6M482.7 1520.4L205.3 1566.6M223.8 1577.6L152.2 1613.4M152.9 2511.1L275.1 2551.9M257.3 2561L482.7 2606"/>
<path class="by" d="M482.9 273.8L309.2 317.2M205.3 1312.4L482.7 1358.6M482.7 1520.4L205.3 1566.6M257.3 2561L482.7 2606"/>
<path class="bk" d="M326.9 325.8L153.2 369.2M152.2 1265.6L223.8 1301.4M223.8 1577.6L152.2 1613.4M152.9 2511.1L275.1 2551.9"/>
</g>
<text class="wm" x="292.5" y="1446" textLength="156" lengthAdjust="spacingAndGlyphs">BRACELETBOOK.COM</text>
</svg>
